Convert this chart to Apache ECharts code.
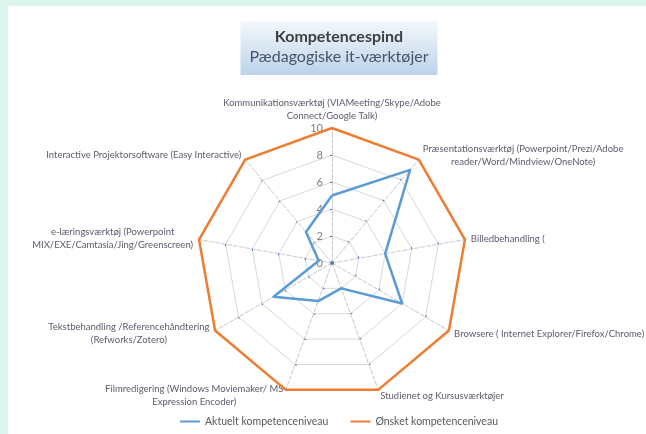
<!DOCTYPE html>
<html>
<head>
<meta charset="utf-8">
<script src="https://cdn.jsdelivr.net/npm/echarts@6/dist/echarts.min.js"></script>
<style>
  html, body { margin: 0; padding: 0; background: #dcf5ea; }
  #main { position: absolute; left: 8px; top: 6px; width: 638px; height: 428px; background: #fff; }
</style>
</head>
<body>
<div id="main"></div>
<script>
const categories = [
  'Kommunikationsværktøj (VIAMeeting/Skype/Adobe\nConnect/Google Talk)',
  'Præsentationsværktøj (Powerpoint/Prezi/Adobe\nreader/Word/Mindview/OneNote)',
  'Billedbehandling (',
  'Browsere ( Internet Explorer/Firefox/Chrome)',
  'Studienet og Kursusværktøjer',
  'Filmredigering (Windows Moviemaker/ MS\nExpression Encoder)',
  'Tekstbehandling /Referencehåndtering\n(Refworks/Zotero)',
  'e-læringsværktøj (Powerpoint\nMIX/EXE/Camtasia/Jing/Greenscreen)',
  'Interactive Projektorsoftware (Easy Interactive)'
]
const aktuelt = [5, 9, 4, 6, 2, 3, 5, 1, 3]
const onsket = [10, 10, 10, 10, 10, 10, 10, 10, 10]
const seriesNames = ['Aktuelt kompetenceniveau', 'Ønsket kompetenceniveau']
const axisMax = 10

// echarts radar runs counter-clockwise, excel clockwise: keep first axis, reverse the rest
const order = [0].concat(categories.map((c, i) => i).slice(1).reverse())
const pick = arr => order.map(i => arr[i])

// centre the lines of a wrapped axis name inside its own block, like excel does
const nameSize = 9.5
const ctx = document.createElement('canvas').getContext('2d')
ctx.font = nameSize + 'px Lato'
const blockWidth = name => Math.ceil(Math.max(...name.split('\n').map(l => ctx.measureText(l).width)))
const centred = name => {
  const lines = name.split('\n')
  if (lines.length < 2) return name
  const w = blockWidth(name)
  return lines.map(l => '{c' + w + '|' + l + '}').join('\n')
}
const rich = {}
categories.filter(n => n.includes('\n')).forEach(n => {
  const w = blockWidth(n)
  rich['c' + w] = { width: w, align: 'center', fontSize: nameSize, color: '#5b5b6b', lineHeight: 13 }
})

const chart = echarts.init(document.getElementById('main'))
const center = [324, 257]
const radius = 135

const option = {
  backgroundColor: '#fff',
  textStyle: { fontFamily: 'Lato' },
  title: {
    text: 'Kompetencespind',
    subtext: 'Pædagogiske it-værktøjer',
    left: 322,
    top: 15,
    itemGap: 4,
    padding: [8, 9, 10, 9],
    backgroundColor: {
      type: 'linear', x: 0, y: 0, x2: 0, y2: 1,
      colorStops: [{ offset: 0, color: '#f4f8fc' }, { offset: 1, color: '#bcd3ea' }]
    },
    textAlign: 'center',
    textStyle: { fontSize: 16, fontWeight: 'bold', color: '#404040', fontFamily: 'Lato' },
    subtextStyle: { fontSize: 16, color: '#44546a', fontFamily: 'Lato' }
  },
  legend: {
    data: seriesNames,
    bottom: 2,
    left: 167,
    itemGap: 22,
    icon: 'rect',
    itemWidth: 20,
    itemHeight: 2,
    textStyle: { fontSize: 10.5, color: '#595959' }
  },
  radar: {
    center: center,
    radius: radius,
    startAngle: 90,
    shape: 'polygon',
    splitNumber: 5,
    nameGap: 6,
    indicator: pick(categories).map(c => ({ name: c, max: axisMax, min: 0 })),
    axisName: {
      color: '#5b5b6b', fontSize: nameSize, lineHeight: 13,
      formatter: centred,
      rich: rich
    },
    splitLine: { lineStyle: { color: '#d9d9d9', width: 1 } },
    splitArea: { show: false },
    axisLine: { lineStyle: { color: '#c8c8c8', type: 'dashed', width: 1 } },
    axisTick: { show: true, length: 2, lineStyle: { color: '#4472c4' } }
  },
  polar: { center: center, radius: radius },
  angleAxis: { type: 'value', min: 0, max: 360, startAngle: 90, show: false },
  radiusAxis: {
    min: 0,
    max: axisMax,
    interval: 2,
    axisLine: { show: false },
    axisTick: { show: false },
    splitLine: { show: false },
    axisLabel: { color: '#7f7f7f', fontSize: 11, margin: 9 }
  },
  series: [{
    type: 'radar',
    symbol: 'none',
    data: [
      { name: seriesNames[0], value: pick(aktuelt), lineStyle: { color: '#5b9bd5', width: 2.5 }, itemStyle: { color: '#5b9bd5' } },
      { name: seriesNames[1], value: pick(onsket), lineStyle: { color: '#ed7d31', width: 2.5 }, itemStyle: { color: '#ed7d31' } }
    ]
  }]
}
chart.setOption(option)
</script>
</body>
</html>
